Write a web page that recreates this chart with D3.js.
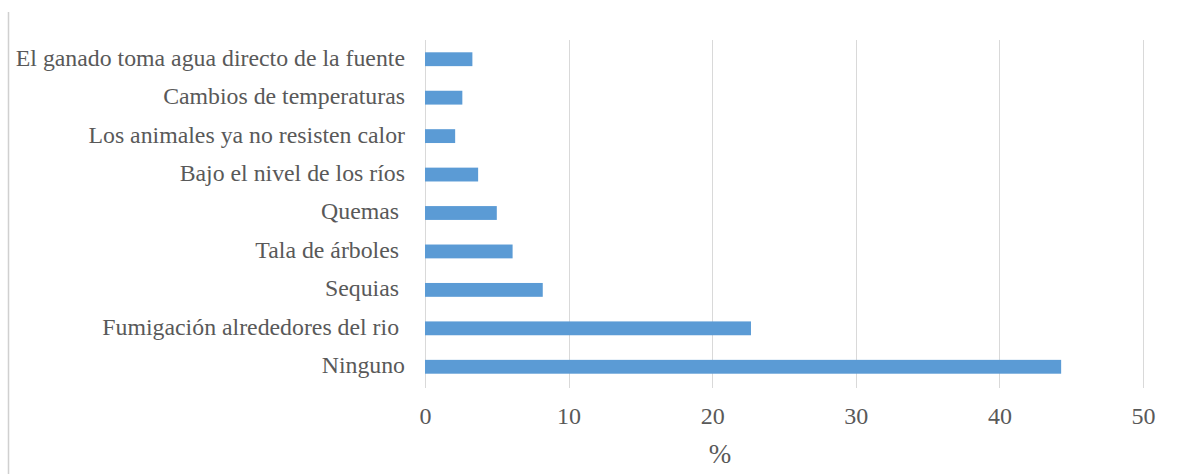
<!DOCTYPE html>
<html><head><meta charset="utf-8">
<script src="https://cdn.jsdelivr.net/npm/d3@7"></script>
<style>body{margin:0;background:#fff}</style>
</head><body><svg id="c" width="1181" height="474"></svg>
<script>
const categories = ["El ganado toma agua directo de la fuente","Cambios de temperaturas","Los animales ya no resisten calor","Bajo el nivel de los ríos","Quemas ","Tala de árboles ","Sequias ","Fumigación alrededores del rio ","Ninguno"];
const values = [3.3, 2.6, 2.1, 3.7, 5.0, 6.1, 8.2, 22.7, 44.3];
const ticks = [0, 10, 20, 30, 40, 50];
const axisTitle = "%";

const FONT = "'Liberation Serif', monospace";
const svg = d3.select("#c");
svg.append("line").attr("x1",8.5).attr("x2",8.5).attr("y1",12).attr("y2",474).attr("stroke","#d0d0d0").attr("stroke-width",1.5);

const x = d3.scaleLinear().domain([0,50]).range([425,1143]);
const y = d3.scaleBand().domain(categories).range([40,386]).paddingInner(0.64).paddingOuter(0.32);

svg.append("g").selectAll("line").data(ticks).join("line")
  .attr("x1",d=>Math.round(x(d))+0.5).attr("x2",d=>Math.round(x(d))+0.5)
  .attr("y1",40).attr("y2",388).attr("stroke","#d9d9d9").attr("stroke-width",1);

svg.append("g").selectAll("rect").data(values).join("rect")
  .attr("x",x(0)).attr("y",(d,i)=>y(categories[i]))
  .attr("width",d=>x(d)-x(0)).attr("height",y.bandwidth()).attr("fill","#5b9bd5");

svg.append("g").selectAll("text").data(categories).join("text")
  .attr("x",405).attr("y",d=>y(d)+y.bandwidth()/2).attr("dy","0.27em")
  .attr("text-anchor","end").style("white-space","pre")
  .style("font-family",FONT).attr("font-size",23.8).attr("fill","#595959").text(d=>d);

const ax = d3.axisBottom(x).tickValues(ticks).tickSize(0).tickPadding(0);
const g = svg.append("g").attr("transform","translate(0,416)").call(ax);
g.select(".domain").remove();
g.selectAll("text").style("font-family",FONT).attr("font-size",24).attr("fill","#595959").attr("dy","0.34em");

svg.append("text").attr("x",720).attr("y",454).attr("dy","0.34em").attr("text-anchor","middle")
  .style("font-family",FONT).attr("font-size",27).attr("fill","#595959").text(axisTitle);
</script></body></html>
